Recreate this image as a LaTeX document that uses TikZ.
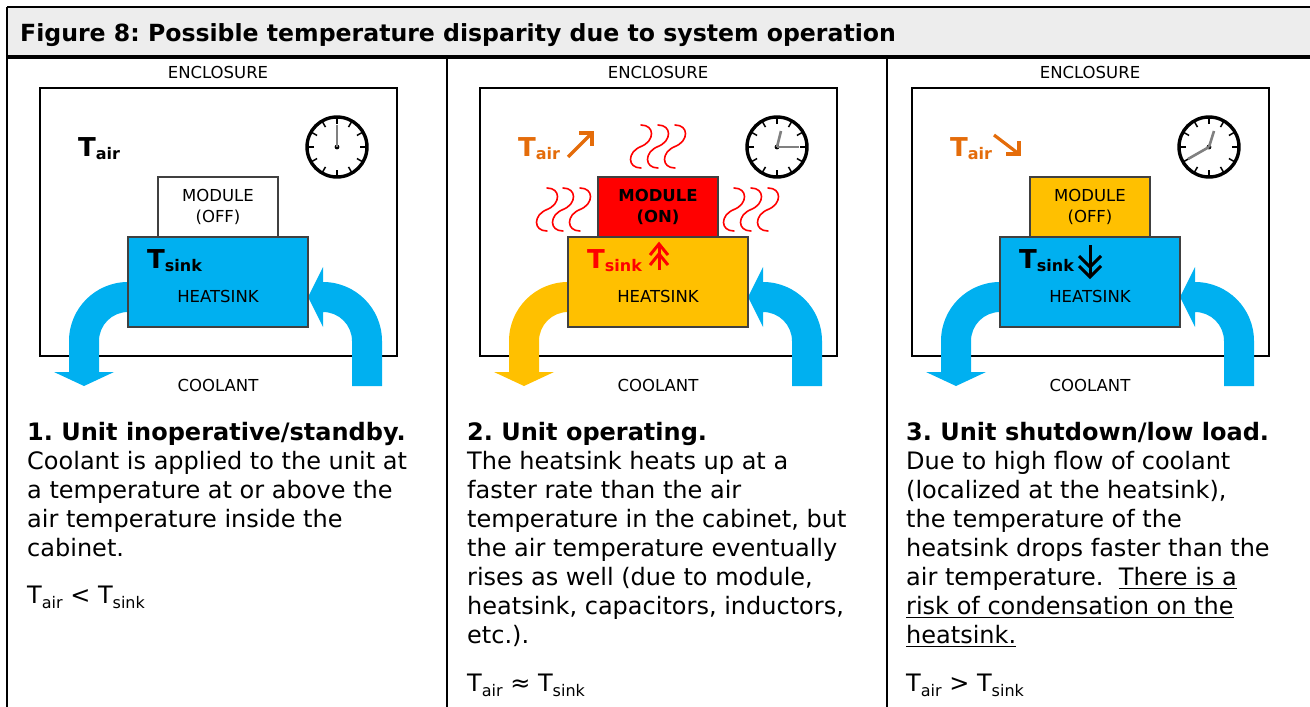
\documentclass[tikz,border=0pt]{standalone}
\usepackage{fontspec}
\setmainfont{DejaVu Sans}
\definecolor{cyanc}{HTML}{00B0F0}
\definecolor{goldc}{HTML}{FFC000}
\definecolor{redc}{HTML}{FF0000}
\definecolor{orangec}{HTML}{E46C0A}
\definecolor{titlegray}{HTML}{EDEDED}
\definecolor{handgray}{HTML}{808080}
\definecolor{edgegray}{HTML}{404040}
\newcommand\BT[1]{{\fontsize{26}{26}\selectfont\bfseries T}\raisebox{-3.5pt}{\fontsize{16}{16}\selectfont\bfseries #1}}
\newcommand\RT[1]{T\raisebox{-5pt}{\fontsize{16}{16}\selectfont #1}}
\newcommand\coolout[1]{\fill[#1] (128,282) .. controls (95.4,282) and (69,308.4) .. (69,341) -- (69,372) -- (54,372) -- (84,386) -- (114,372) -- (99,372) -- (99,341) .. controls (99,325) and (112,312) .. (128,312) -- cycle;}
\newcommand\coolin[1]{\fill[#1] (352,386) -- (382,386) -- (382,341) .. controls (382,308.4) and (355.6,282) .. (323,282) -- (323,267) -- (308,297) -- (323,327) -- (323,312) .. controls (339,312) and (352,325) .. (352,341) -- cycle;}
\frenchspacing
\begin{document}
\begin{tikzpicture}[x=1pt,y=-1pt,
  frame/.style={draw=black, line width=2.4pt},
  enc/.style={draw=black, line width=1.4pt, minimum width=357pt, minimum height=268pt, inner sep=0},
  hsbox/.style={draw=edgegray, line width=1.4pt, minimum width=180pt, minimum height=90pt, inner sep=0},
  modbox/.style={draw=edgegray, line width=1.2pt, minimum width=120pt, minimum height=60pt, inner sep=0, align=center, font=\fontsize{16.5}{21}\selectfont},
  lbl/.style={inner sep=0, font=\fontsize{16.5}{20}\selectfont},
  body/.style={anchor=base west, inner sep=0, font=\fontsize{24}{29}\selectfont},
  hdr/.style={anchor=base west, inner sep=0, font=\fontsize{24}{29}\selectfont\bfseries},
  tlab/.style={anchor=base west, inner sep=0},
  hand/.style={draw=handgray, line width=2.6pt},
  tarr/.style={draw=orangec, line width=3.2pt, line join=miter},
  dbl/.style={line width=3pt, line join=miter},
  wavestroke/.style={draw=redc, line width=1.6pt, line cap=round},
  ulstroke/.style={draw=black, line width=1.6pt},
  pics/clockface/.style={code={
    \draw[line width=3.4pt] (0,0) circle[radius=30];
    \foreach \a in {0,30,...,330} \draw[line width=1.5pt] (\a:23) -- (\a:30);
    \fill (0,0) circle[radius=2.4];
  }},
  pics/wave/.style={code={
    \draw[wavestroke] (0,0) .. controls (14,0) and (14,16) .. (0,21.5) .. controls (-14,27) and (-14,43) .. (0,43);
  }}
]
\useasboundingbox (0,0) rectangle (1310,707);
% frame and title bar
\fill[titlegray] (7,7) rectangle (1310,57);
\draw[line width=1.8pt] (7,7) -- (1310,7);
\draw[frame] (7,7) -- (7,707);
\draw[line width=3.2pt] (7,57) -- (1310,57);
\draw[frame] (447,57) -- (447,707);
\draw[frame] (887,57) -- (887,707);
\node[anchor=base west, inner sep=0, font=\fontsize{23.6}{28}\selectfont\bfseries] (title) at (20,41) {Figure 8: Possible temperature disparity due to system operation};

% ---------------- Panel 1 ----------------
\node[lbl] (encl1) at (218,72) {ENCLOSURE};
\node[enc] (enc1) at (218.5,222) {};
\coolout{cyanc}
\coolin{cyanc}
\node[hsbox, fill=cyanc] (hs1) at (218,282) {};
\node[modbox, fill=white] (mod1) at (218,207) {MODULE\\(OFF)};
\node[lbl] (hsl1) at (218,296) {HEATSINK};
\node[lbl] (cool1) at (218,385) {COOLANT};
\node[tlab] (tair1) at (78,156) {\BT{air}};
\node[tlab] (tsink1) at (147,268) {\BT{sink}};
\pic (clk1) at (337,147) {clockface};
\draw[hand] (337,147) -- (337,125);
\node[hdr] (h1) at (27,440) {1. Unit inoperative/standby.};
\node[body] (a1) at (27,469) {Coolant is applied to the unit at};
\node[body] (a2) at (27,498) {a temperature at or above the};
\node[body] (a3) at (27,527) {air temperature inside the};
\node[body] (a4) at (27,556) {cabinet.};
\node[body] (f1) at (27,603) {\RT{air} < \RT{sink}};

% ---------------- Panel 2 ----------------
\node[lbl] (encl2) at (658,72) {ENCLOSURE};
\node[enc] (enc2) at (658.5,222) {};
\begin{scope}[xshift=440pt]
\coolout{goldc}
\coolin{cyanc}
\end{scope}
\node[hsbox, fill=goldc] (hs2) at (658,282) {};
\node[modbox, fill=redc, font=\fontsize{16.5}{21}\selectfont\bfseries] (mod2) at (658,207) {MODULE\\(ON)};
\node[lbl] (hsl2) at (658,296) {HEATSINK};
\node[lbl] (cool2) at (658,385) {COOLANT};
\node[tlab, text=orangec] (tair2) at (518,156) {\BT{air}};
\draw[tarr] (568,157) -- (592,133);
\draw[tarr] (579,133) -- (592,133) -- (592,146);
\node[tlab, text=redc] (tsink2) at (587,268) {\BT{sink}};
\draw[dbl, redc] (659,270) -- (659,245);
\draw[dbl, redc] (650,255) -- (659,244) -- (668,255);
\draw[dbl, redc] (650,265) -- (659,254) -- (668,265);
\pic (clk2) at (777,147) {clockface};
\draw[hand] (777,147) -- (781,131);
\draw[hand] (777,147) -- (799,147);
\foreach \xx in {641,658,675} \pic at (\xx,125) {wave};
\foreach \xx in {547,563,580} \pic at (\xx,188) {wave};
\foreach \xx in {734,751,768} \pic at (\xx,188) {wave};
\node[hdr] (h2) at (467,440) {2. Unit operating.};
\node[body] (b1) at (467,469) {The heatsink heats up at a};
\node[body] (b2) at (467,498) {faster rate than the air};
\node[body] (b3) at (467,527) {temperature in the cabinet, but};
\node[body] (b4) at (467,556) {the air temperature eventually};
\node[body] (b5) at (467,585) {rises as well (due to module,};
\node[body] (b6) at (467,614) {heatsink, capacitors, inductors,};
\node[body] (b7) at (467,643) {etc.).};
\node[body] (f2) at (467,691) {\RT{air} ≈ \RT{sink}};

% ---------------- Panel 3 ----------------
\node[lbl] (encl3) at (1090,72) {ENCLOSURE};
\node[enc] (enc3) at (1090.5,222) {};
\begin{scope}[xshift=872pt]
\coolout{cyanc}
\coolin{cyanc}
\end{scope}
\node[hsbox, fill=cyanc] (hs3) at (1090,282) {};
\node[modbox, fill=goldc] (mod3) at (1090,207) {MODULE\\(OFF)};
\node[lbl] (hsl3) at (1090,296) {HEATSINK};
\node[lbl] (cool3) at (1090,385) {COOLANT};
\node[tlab, text=orangec] (tair3) at (950,156) {\BT{air}};
\draw[tarr] (994,135) -- (1019,154);
\draw[tarr] (1006,154) -- (1019,154) -- (1019,141);
\node[tlab] (tsink3) at (1019,268) {\BT{sink}};
\draw[dbl] (1090,245) -- (1090,276);
\draw[dbl] (1079,266) -- (1090,277) -- (1101,266);
\draw[dbl] (1079,256) -- (1090,267) -- (1101,256);
\pic (clk3) at (1209,147) {clockface};
\draw[hand] (1209,147) -- (1214,131);
\draw[hand] (1209,147) -- (1188,159);
\node[hdr] (h3) at (906,440) {3. Unit shutdown/low load.};
\node[body] (c1) at (906,469) {Due to high flow of coolant};
\node[body] (c2) at (906,498) {(localized at the heatsink),};
\node[body] (c3) at (906,527) {the temperature of the};
\node[body] (c4) at (906,556) {heatsink drops faster than the};
\node[body] (c5) at (906,585) {air temperature.};
\node[body] (c5u) at ([xshift=15pt]c5.base east) {There is a};
\node[body] (c6) at (906,614) {risk of condensation on the};
\node[body] (c7) at (906,643) {heatsink.};
\draw[ulstroke] ([yshift=-3.5pt]c5u.base west) -- ([yshift=-3.5pt]c5u.base east);
\draw[ulstroke] ([yshift=-3.5pt]c6.base west) -- ([yshift=-3.5pt]c6.base east);
\draw[ulstroke] ([yshift=-3.5pt]c7.base west) -- ([yshift=-3.5pt]c7.base east);
\node[body] (f3) at (906,691) {\RT{air} > \RT{sink}};
\end{tikzpicture}
\end{document}
